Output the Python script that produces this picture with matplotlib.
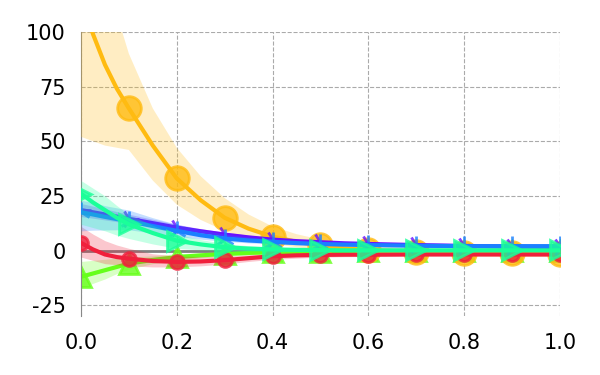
import matplotlib
matplotlib.use("Agg")
import matplotlib.pyplot as plt
import numpy as np

# fine x grid for the smooth lines
x_line = [0.0, 0.025, 0.05, 0.075, 0.1, 0.15, 0.2, 0.25, 0.3, 0.35, 0.4, 0.45,
          0.5, 0.55, 0.6, 0.7, 0.8, 0.9, 1.0]
# marker positions
x_mark = [0.0, 0.1, 0.2, 0.3, 0.4, 0.5, 0.6, 0.7, 0.8, 0.9, 1.0]

# orange series
orange_line = [116, 99, 85, 74, 65, 48, 33, 23, 15, 10, 6.4, 4.0, 2.3, 1.0, 0.2, -0.6, -1.0, -1.3, -1.5]
orange_lo = [52, 50, 48, 47, 46, 32, 21, 14, 9, 5, 3, 1.5, 0.3, -0.8, -1.5, -2.2, -2.6, -2.9, -3.0]
orange_hi = [190, 160, 130, 108, 90, 65, 47, 34, 24, 16.5, 11, 7.5, 5.0, 3.3, 2.2, 1.0, 0.6, 0.3, 0.1]
orange_mark = [116, 65, 33, 15, 6.4, 2.3, 0.2, -0.6, -1.0, -1.3, -1.5]

# red series
red_line = [3.5, 0.5, -1.8, -3.0, -3.7, -4.8, -5.2, -5.0, -4.4, -3.5, -2.6, -2.2, -2.0, -1.9, -1.9, -1.8, -1.8, -1.8, -1.8]
red_lo = [-3, -4.5, -6, -6.5, -7, -7.5, -7.5, -7, -6.2, -5, -4, -3.5, -3.0, -2.8, -2.7, -2.5, -2.4, -2.4, -2.4]
red_hi = [11, 7.5, 4.5, 2.5, 1.0, -1.5, -2.5, -2.8, -2.6, -2.0, -1.5, -1.2, -1.1, -1.0, -1.0, -1.0, -1.1, -1.2, -1.2]
red_mark = [3.5, -3.7, -5.2, -4.4, -2.6, -2.0, -1.9, -1.8, -1.8, -1.8, -1.8]

# green (lime) series
green_line = [-12, -10.5, -9, -7.5, -6, -4.3, -3, -2.2, -1.6, -1.1, -0.8, -0.6, -0.5, -0.4, -0.3, -0.2, -0.2, -0.1, -0.1]
green_lo = [-17, -15, -13, -10.5, -8.5, -6, -4.5, -3.3, -2.6, -2.0, -1.6, -1.3, -1.1, -1.0, -0.9, -0.8, -0.7, -0.6, -0.6]
green_hi = [-5, -4.5, -4, -3.5, -3, -2.4, -1.5, -1.1, -0.8, -0.4, -0.1, 0.1, 0.1, 0.2, 0.3, 0.4, 0.4, 0.4, 0.4]
green_mark = [-12, -6, -3, -1.6, -0.8, -0.5, -0.3, -0.2, -0.2, -0.1, -0.1]

# blue series
blue_line = [17.5, 16.5, 15.4, 14.4, 13.4, 11.2, 9.0, 7.0, 5.5, 4.6, 4.0, 3.4, 3.0, 2.7, 2.5, 2.2, 2.0, 2.0, 2.0]
blue_lo = [9, 9.3, 9.4, 9.5, 9.5, 8.0, 6.5, 5.2, 4.2, 3.5, 3.0, 2.6, 2.3, 2.1, 1.9, 1.6, 1.4, 1.4, 1.4]
blue_hi = [23, 22, 20.5, 19.5, 18.5, 15, 12, 9.5, 7.5, 6.2, 5.2, 4.4, 3.8, 3.4, 3.1, 2.8, 2.6, 2.6, 2.6]
blue_mark = [17.5, 13.4, 9.0, 5.5, 4.0, 3.0, 2.5, 2.2, 2.0, 2.0, 2.0]

# purple series
purple_line = [18.5, 17.5, 16.5, 15.5, 14.5, 12.5, 10.5, 8.8, 7.3, 6.0, 5.0, 4.3, 3.8, 3.3, 3.0, 2.5, 2.1, 1.8, 1.6]
purple_lo = [15.5, 14.8, 14.0, 13.2, 12.5, 10.8, 9.0, 7.6, 6.3, 5.2, 4.3, 3.7, 3.2, 2.8, 2.5, 2.1, 1.7, 1.4, 1.2]
purple_hi = [21.5, 20.3, 19.0, 17.8, 16.6, 14.3, 12.0, 10.0, 8.4, 7.0, 5.8, 5.0, 4.4, 3.9, 3.5, 3.0, 2.5, 2.2, 2.0]
purple_mark = [18.5, 14.5, 10.5, 7.3, 5.0, 3.8, 3.0, 2.5, 2.1, 1.8, 1.6]

# teal series
teal_line = [26, 22, 18.5, 15, 12, 8, 4.5, 2.8, 1.5, 0.9, 0.5, 0.3, 0.2, 0.1, 0.1, 0.1, 0.1, 0.1, 0.1]
teal_lo = [12, 10.5, 9, 7, 5.5, 3.0, 1.0, 0.3, -0.3, -0.5, -0.6, -0.6, -0.6, -0.6, -0.6, -0.6, -0.6, -0.6, -0.6]
teal_hi = [32, 28.5, 25, 20.5, 16.5, 11.5, 7.5, 5.0, 3.2, 2.2, 1.6, 1.2, 1.0, 0.8, 0.8, 0.8, 0.8, 0.8, 0.8]
teal_mark = [26, 12, 4.5, 1.5, 0.5, 0.2, 0.1, 0.1, 0.1, 0.1, 0.1]

x_ticks = [0.0, 0.2, 0.4, 0.6, 0.8, 1.0]
y_ticks = [-25, 0, 25, 50, 75, 100]

fig = plt.figure(figsize=(6, 3.75), dpi=100)
ax = fig.add_axes([0.135, 0.157, 0.798, 0.758])

ax.set_xlim(0, 1)
ax.set_ylim(-30, 100)
ax.set_xticks(x_ticks)
ax.set_yticks(y_ticks)
ax.set_xticklabels([f"{v:.1f}" for v in x_ticks])
ax.set_yticklabels([f"{v}" for v in y_ticks])
ax.grid(True, color="#aaaaaa", linestyle="--", linewidth=0.8)
ax.set_axisbelow(True)
for s in ["top", "right", "bottom"]:
    ax.spines[s].set_visible(False)
ax.spines["left"].set_color("#888888")
ax.tick_params(length=0, labelsize=15)
ax.tick_params(axis="x", pad=12)
ax.tick_params(axis="y", pad=11)
ax.axhline(0, color="#808080", lw=2, zorder=1)

series = [
    (green_line, green_lo, green_hi, green_mark, "#66ff1a", "^", 15, 2),
    (orange_line, orange_lo, orange_hi, orange_mark, "#ffbb11", "o", 17, 3),
    (red_line, red_lo, red_hi, red_mark, "#f0203c", "o", 10, 4),
    (purple_line, purple_lo, purple_hi, purple_mark, "#6a10ff", "4", 14, 5),
    (blue_line, blue_lo, blue_hi, blue_mark, "#1a80ff", "2", 14, 6),
    (teal_line, teal_lo, teal_hi, teal_mark, "#1aff99", ">", 15, 7),
]

for line, lo, hi, mark, col, mk, ms, z in series:
    ax.fill_between(x_line, lo, hi, color=col, alpha=0.25, lw=0, zorder=z)
    ax.plot(x_line, line, color=col, lw=3, zorder=z + 0.1)
    ax.plot(x_mark, mark, linestyle="none", marker=mk, markersize=ms,
            color=col, alpha=0.8, markeredgewidth=2, zorder=z + 0.2)

fig.savefig("out.png", dpi=100)
